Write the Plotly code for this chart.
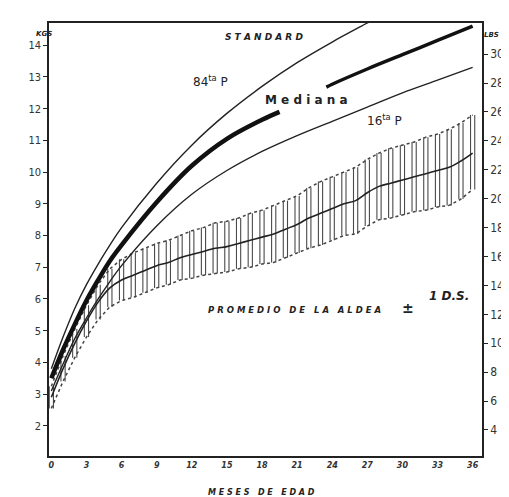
import plotly.graph_objects as go

# ---------------- data (kg vs months) ----------------
p84_months = [0, 1, 2, 3, 4, 5, 6, 9, 12, 15, 18, 21, 24, 27, 28]
p84_kg = [3.8, 4.8, 5.7, 6.45, 7.1, 7.7, 8.25, 9.65, 10.85, 11.85, 12.7, 13.45, 14.1, 14.7, 14.9]

med_a_months = [0, 1, 2, 3, 4, 5, 6, 9, 12, 15, 18, 19.5]
med_a_kg = [3.5, 4.4, 5.2, 5.95, 6.6, 7.2, 7.7, 9.05, 10.2, 11.05, 11.65, 11.9]
med_b_months = [23.5, 24, 27, 30, 33, 36]
med_b_kg = [12.68, 12.77, 13.25, 13.7, 14.15, 14.6]

p16_months = [0, 1, 2, 3, 4, 5, 6, 9, 12, 15, 18, 21, 24, 27, 30, 33, 36]
p16_kg = [3.1, 3.95, 4.75, 5.4, 6.0, 6.55, 7.05, 8.3, 9.3, 10.05, 10.65, 11.15, 11.6, 12.05, 12.5, 12.9, 13.3]

village_months = list(range(0, 37))
village_mean = [2.9, 3.8, 4.6, 5.3, 5.9, 6.35, 6.6, 6.75, 6.9, 7.05, 7.15, 7.3, 7.4,
                7.5, 7.6, 7.65, 7.75, 7.85, 7.95, 8.05, 8.2, 8.35, 8.55, 8.7, 8.85,
                9.0, 9.1, 9.35, 9.55, 9.65, 9.75, 9.85, 9.95, 10.05, 10.15, 10.35, 10.6]
village_upper = [3.25, 4.2, 5.05, 5.8, 6.45, 6.95, 7.25, 7.45, 7.6, 7.75, 7.85, 8.0, 8.15,
                 8.25, 8.4, 8.45, 8.55, 8.7, 8.8, 8.95, 9.1, 9.25, 9.5, 9.7, 9.85,
                 10.0, 10.15, 10.4, 10.6, 10.75, 10.85, 10.95, 11.1, 11.2, 11.35, 11.55, 11.8]
village_lower = [2.55, 3.4, 4.15, 4.8, 5.35, 5.75, 5.95, 6.05, 6.2, 6.35, 6.45, 6.6, 6.65,
                 6.75, 6.8, 6.85, 6.95, 7.0, 7.1, 7.15, 7.3, 7.45, 7.6, 7.7, 7.85,
                 8.0, 8.05, 8.3, 8.5, 8.55, 8.65, 8.75, 8.8, 8.9, 8.95, 9.15, 9.45]

x_ticks = [0, 3, 6, 9, 12, 15, 18, 21, 24, 27, 30, 33, 36]
x_ticklabels = [str(v) for v in x_ticks]
kg_ticks = list(range(2, 15))
lbs_ticks = list(range(4, 31, 2))

# ---------------- figure ----------------
INK = "#222222"
fig = go.Figure()

# village bars: narrow rectangles (two vertical strokes per month)
HALF_W = 0.18
bx, by = [], []
for m, lo, hi in zip(village_months, village_lower, village_upper):
    for dx in (-HALF_W, HALF_W):
        bx += [m + dx, m + dx, None]
        by += [lo, hi, None]
fig.add_trace(go.Scatter(x=bx, y=by, mode="lines", line=dict(color="#4a4a4a", width=1.1),
                         hoverinfo="skip", showlegend=False))
fig.add_trace(go.Scatter(x=village_months, y=village_upper, mode="lines",
                         line=dict(color="#444444", width=1.5, dash="dot"), showlegend=False))
fig.add_trace(go.Scatter(x=village_months, y=village_lower, mode="lines",
                         line=dict(color="#444444", width=1.5, dash="dot"), showlegend=False))
fig.add_trace(go.Scatter(x=village_months, y=village_mean, mode="lines",
                         line=dict(color=INK, width=1.6, shape="spline"), showlegend=False))

# standard curves
fig.add_trace(go.Scatter(x=p84_months, y=p84_kg, mode="lines",
                         line=dict(color=INK, width=1.4, shape="spline"), showlegend=False))
fig.add_trace(go.Scatter(x=p16_months, y=p16_kg, mode="lines",
                         line=dict(color=INK, width=1.4, shape="spline"), showlegend=False))
fig.add_trace(go.Scatter(x=med_a_months, y=med_a_kg, mode="lines",
                         line=dict(color="#111111", width=4.5, shape="spline"), showlegend=False))
fig.add_trace(go.Scatter(x=med_b_months, y=med_b_kg, mode="lines",
                         line=dict(color="#111111", width=3.5, shape="spline"), showlegend=False))

# anchor trace for the lbs axis
fig.add_trace(go.Scatter(x=[0], y=[lbs_ticks[0]], yaxis="y2", mode="markers",
                         marker=dict(opacity=0), hoverinfo="skip", showlegend=False))

tick_font = dict(family="DejaVu Sans Condensed, DejaVu Sans", size=11, color="#333333")

fig.update_layout(
    width=509, height=497,
    margin=dict(l=41, r=35, t=15, b=49),
    paper_bgcolor="white", plot_bgcolor="white",
    showlegend=False,
    xaxis=dict(range=[-0.2, 36.8], tickvals=x_ticks, ticktext=x_ticklabels,
               ticks="", showgrid=False, zeroline=False, showline=True,
               linecolor=INK, linewidth=2, mirror=True,
               tickfont=dict(family="DejaVu Sans", size=8, color="#333333",
                             style="italic", weight="bold")),
    yaxis=dict(range=[1.05, 14.7], tickvals=kg_ticks, ticks="outside", ticklen=4,
               tickcolor=INK, showgrid=False, zeroline=False, showline=True,
               linecolor=INK, linewidth=1.6, tickfont=tick_font),
    yaxis2=dict(range=[2.2, 32.15], tickvals=lbs_ticks, overlaying="y", side="right",
                ticks="outside", ticklen=4, tickcolor=INK, showgrid=False,
                zeroline=False, showline=True, linecolor=INK, linewidth=1.6,
                tickfont=dict(family="DejaVu Sans Condensed, DejaVu Sans", size=12,
                              color="#333333")),
)

ann_font = dict(family="DejaVu Sans", color="#222222")
anns = [
    dict(x=18.2, y=14.25, text="S T A N D A R D",
         font=dict(size=9, style="italic", weight="bold", **ann_font)),
    dict(x=13.6, y=12.87, text="84<sup>ta</sup> P", font=dict(size=12, **ann_font)),
    dict(x=21.8, y=12.27, text="M e d i a n a", font=dict(size=12, weight="bold", **ann_font)),
    dict(x=28.5, y=11.64, text="16<sup>ta</sup> P", font=dict(size=12, **ann_font)),
    dict(x=20.8, y=5.65, text="P R O M E D I O   D E   L A   A L D E A",
         font=dict(size=8.5, style="italic", weight="bold", **ann_font)),
    dict(x=30.5, y=5.72, text="±", font=dict(size=14, weight="bold", **ann_font)),
    dict(x=34.0, y=6.08, text="1 D.S.", font=dict(size=12, style="italic", weight="bold", **ann_font)),
]
for a in anns:
    fig.add_annotation(xref="x", yref="y", showarrow=False, **a)

fig.add_annotation(xref="paper", yref="paper", x=-0.035, y=0.988, text="KGS",
                   showarrow=False, font=dict(size=7, style="italic", weight="bold", **ann_font))
fig.add_annotation(xref="paper", yref="paper", x=1.044, y=0.986, text="LBS",
                   showarrow=False, font=dict(size=7, style="italic", weight="bold", **ann_font))
fig.add_annotation(xref="paper", yref="paper", x=0.49, y=-0.10, text="M E S E S   D E   E D A D",
                   showarrow=False, font=dict(size=8, style="italic", weight="bold", **ann_font))

fig.write_html("out.html")
